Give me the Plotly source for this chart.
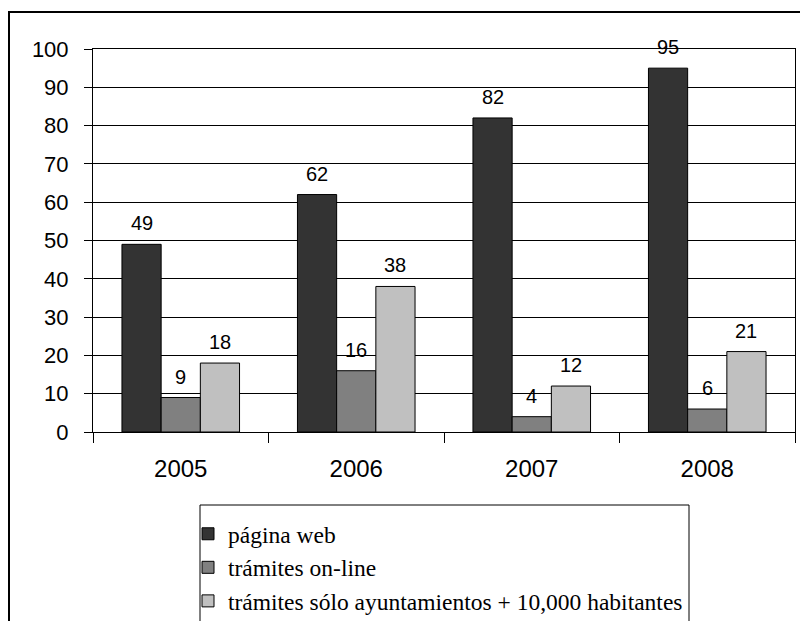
import plotly.graph_objects as go

years = ["2005", "2006", "2007", "2008"]
series_names = ["página web", "trámites on-line", "trámites sólo ayuntamientos + 10,000 habitantes"]
pagina_web = [49, 62, 82, 95]
tramites_online = [9, 16, 4, 6]
tramites_ayunt = [18, 38, 12, 21]
series_values = [pagina_web, tramites_online, tramites_ayunt]
colors = ["#333333", "#808080", "#C0C0C0"]
y_ticks = [0, 10, 20, 30, 40, 50, 60, 70, 80, 90, 100]

W, H = 800, 621
L, T = 93, 49
PR, PB = 795, 432
plot_w, plot_h = PR - L, PB - T


def px(xp):
    return (xp - L) / plot_w


def py(yp):
    return (PB - yp) / plot_h


fig = go.Figure()
for i, (name, vals) in enumerate(zip(series_names, series_values)):
    fig.add_trace(go.Bar(
        x=years, y=vals, name=name, legendgroup=str(i),
        marker=dict(color=colors[i], line=dict(color="black", width=1)),
    ))

bar_px = 39.2
annotations = []
for i, vals in enumerate(series_values):
    for j, v in enumerate(vals):
        annotations.append(dict(
            x=j, y=v, xref="x", yref="y", text=str(v), showarrow=False,
            xshift=(i - 1) * bar_px, yanchor="bottom", yshift=8,
            font=dict(family="Arial, Liberation Sans", size=20, color="black"),
        ))

fig.update_layout(
    width=W, height=H,
    margin=dict(l=L, r=W - PR, t=T, b=H - PB, autoexpand=False),
    paper_bgcolor="white", plot_bgcolor="white",
    barmode="group", bargap=0.33, bargroupgap=0,
    annotations=annotations,
    showlegend=True,
    legend=dict(
        xref="container", yref="container",
        x=188 / W, y=1 - 512 / H, xanchor="left", yanchor="top",
        borderwidth=0, bgcolor="rgba(0,0,0,0)",
        font=dict(family="Times New Roman, Liberation Serif", size=23.5, color="black"),
        tracegroupgap=20, traceorder="normal", itemwidth=30,
    ),
    shapes=[
        dict(type="rect", xref="paper", yref="paper",
             x0=px(9), x1=px(812), y0=py(650), y1=py(12),
             line=dict(color="black", width=2), layer="below"),
        dict(type="rect", xref="paper", yref="paper",
             x0=px(200), x1=px(689), y0=py(640), y1=py(505),
             line=dict(color="black", width=1), fillcolor="white", layer="below"),
    ],
    font=dict(family="Arial, Liberation Sans", color="black"),
)
fig.update_xaxes(
    type="category", range=[-0.5, 3.5], showline=True, linecolor="black", linewidth=1, mirror=True,
    ticks="outside", tickson="boundaries", ticklen=10, tickcolor="black",
    tickfont=dict(size=24, family="Arial, Liberation Sans", color="black"),
    ticklabelstandoff=15, showgrid=False, tickangle=0, automargin=False,
)
fig.update_yaxes(
    range=[0, 100], tickvals=y_ticks, showline=True, linecolor="black", linewidth=1,
    mirror=True, ticks="outside", ticklen=8, tickcolor="black",
    showgrid=True, gridcolor="black", gridwidth=1, zeroline=False,
    tickfont=dict(size=22, family="Arial, Liberation Sans", color="black"),
    ticklabelstandoff=11, automargin=False,
)
fig.write_html(
    "out.html",
    config={"displayModeBar": False},
    post_script="document.body.style.margin='0';document.body.style.overflow='hidden';",
)
